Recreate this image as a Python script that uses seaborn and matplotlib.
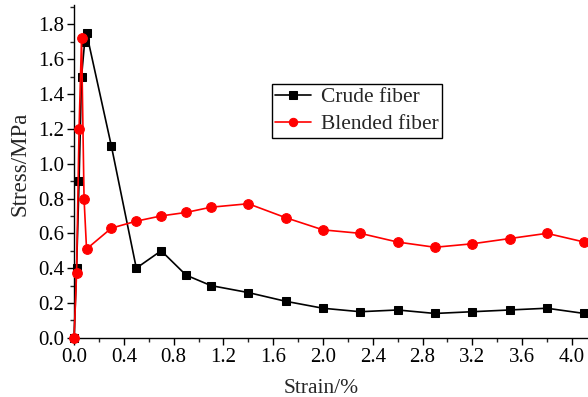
import matplotlib
matplotlib.use("Agg")
import matplotlib.pyplot as plt
import seaborn as sns
import pandas as pd
from matplotlib.ticker import AutoMinorLocator

# --- data ---
crude_strain = [0.0, 0.02, 0.04, 0.06, 0.085, 0.10, 0.3, 0.5, 0.7, 0.9, 1.1, 1.4, 1.7, 2.0, 2.3, 2.6, 2.9, 3.2, 3.5, 3.8, 4.1]
crude_stress = [0.0, 0.40, 0.90, 1.50, 1.70, 1.75, 1.10, 0.40, 0.50, 0.36, 0.30, 0.26, 0.21, 0.17, 0.15, 0.16, 0.14, 0.15, 0.16, 0.17, 0.14]

blend_strain = [0.0, 0.02, 0.04, 0.06, 0.08, 0.10, 0.3, 0.5, 0.7, 0.9, 1.1, 1.4, 1.7, 2.0, 2.3, 2.6, 2.9, 3.2, 3.5, 3.8, 4.1]
blend_stress = [0.0, 0.37, 1.20, 1.72, 0.80, 0.51, 0.63, 0.67, 0.70, 0.72, 0.75, 0.77, 0.69, 0.62, 0.60, 0.55, 0.52, 0.54, 0.57, 0.60, 0.55]

x_ticks = [0.0, 0.4, 0.8, 1.2, 1.6, 2.0, 2.4, 2.8, 3.2, 3.6, 4.0]
y_ticks = [0.0, 0.2, 0.4, 0.6, 0.8, 1.0, 1.2, 1.4, 1.6, 1.8]

df_crude = pd.DataFrame({"strain": crude_strain, "stress": crude_stress})
df_blend = pd.DataFrame({"strain": blend_strain, "stress": blend_stress})

sns.set_style("ticks")
plt.rcParams['font.family'] = ['Liberation Serif', 'DejaVu Serif']

fig = plt.figure(figsize=(5.88, 3.97), dpi=100)
ax = fig.add_axes([0.126, 0.149, 0.874, 0.838])

sns.lineplot(data=df_crude, x="strain", y="stress", ax=ax, color="black", marker="s",
             markersize=6, markeredgecolor="black", linewidth=1.2, sort=False,
             label="Crude fiber", clip_on=False, zorder=3)
sns.lineplot(data=df_blend, x="strain", y="stress", ax=ax, color="#ff0000", marker="o",
             markersize=7, markeredgecolor="#ff0000", linewidth=1.2, sort=False,
             label="Blended fiber", clip_on=False, zorder=4)

ax.set_xlim(0, 4.13)
ax.set_ylim(0, 1.91)
ax.set_xticks(x_ticks)
ax.set_yticks(y_ticks)
ax.set_xticklabels([f"{v:.1f}" for v in x_ticks])
ax.set_yticklabels([f"{v:.1f}" for v in y_ticks])
ax.xaxis.set_minor_locator(AutoMinorLocator(2))
ax.yaxis.set_minor_locator(AutoMinorLocator(2))
ax.tick_params(which="major", direction="out", length=5, width=1, labelsize=15, colors="black", pad=2)
ax.tick_params(which="minor", direction="out", length=3, width=1)

sns.despine(ax=ax)
for s in ["left", "bottom"]:
    ax.spines[s].set_linewidth(1)
    ax.spines[s].set_color("black")

ax.set_xlabel("Strain/%", fontsize=15.5)
ax.set_ylabel("Stress/MPa", fontsize=16.5)
ax.xaxis.set_label_coords(0.48, -0.123)
ax.yaxis.set_label_coords(-0.085, 0.524)

leg = ax.legend(loc="upper left", bbox_to_anchor=(0.385, 0.763), fontsize=15.5,
                frameon=True, fancybox=False, edgecolor="black", framealpha=1,
                handlelength=1.65, handletextpad=0.5, borderpad=0.15, labelspacing=0.33,
                borderaxespad=0)
leg.get_frame().set_linewidth(1)
for h in leg.legend_handles:
    h.set_markersize(6)

fig.savefig("out.png", dpi=100)
